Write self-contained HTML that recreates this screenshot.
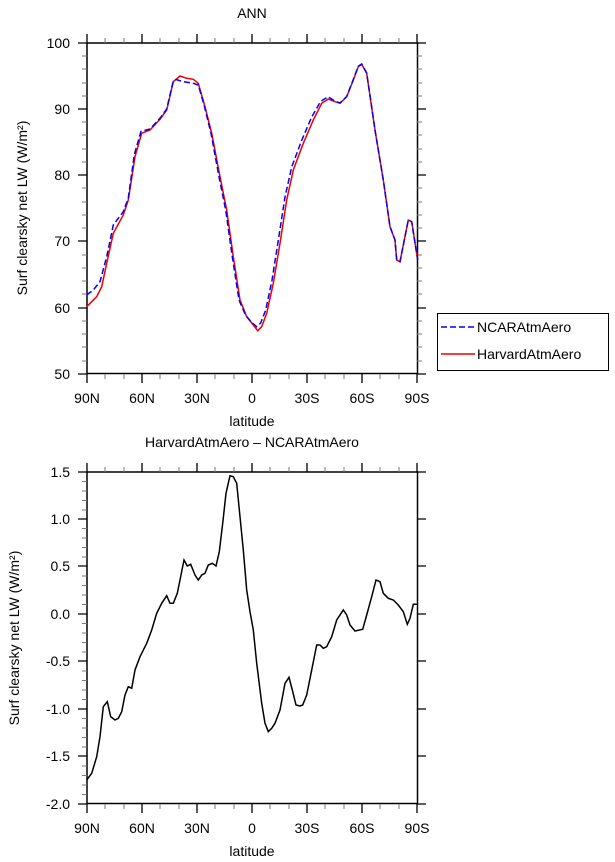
<!DOCTYPE html>
<html><head><style>body{margin:0;background:#fff}svg{display:block}text{font-family:"Liberation Sans",sans-serif;fill:#000}</style></head>
<body>
<svg width="615" height="862" viewBox="0 0 615 862" xmlns="http://www.w3.org/2000/svg">
<g font-size="14">
<text x="252" y="18" text-anchor="middle">ANN</text>
<rect x="87" y="43" width="330.5" height="330.5" fill="none" stroke="#000" stroke-width="1.5"/>
<g stroke="#000" stroke-width="1.3">
<path d="M87,43v-9M142,43v-9M197,43v-9M252,43v-9M307,43v-9M362,43v-9M417,43v-9M87,374v9M142,374v9M197,374v9M252,374v9M307,374v9M362,374v9M417,374v9"/>
<path d="M87,43h-9M87,109h-9M87,175h-9M87,241h-9M87,308h-9M87,374h-9M417,43h9M417,109h9M417,175h9M417,241h9M417,308h9M417,374h9"/>
</g>
<g stroke="#777" stroke-width="1">
<path d="M105,43v-5M124,43v-5M160,43v-5M179,43v-5M215,43v-5M234,43v-5M270,43v-5M289,43v-5M325,43v-5M344,43v-5M380,43v-5M399,43v-5M105,374v5M124,374v5M160,374v5M179,374v5M215,374v5M234,374v5M270,374v5M289,374v5M325,374v5M344,374v5M380,374v5M399,374v5"/>
<path d="M87,56h-5M87,69h-5M87,83h-5M87,96h-5M87,122h-5M87,135h-5M87,149h-5M87,162h-5M87,188h-5M87,202h-5M87,215h-5M87,228h-5M87,255h-5M87,268h-5M87,281h-5M87,294h-5M87,321h-5M87,334h-5M87,347h-5M87,361h-5M417,56h5M417,69h5M417,83h5M417,96h5M417,122h5M417,135h5M417,149h5M417,162h5M417,188h5M417,202h5M417,215h5M417,228h5M417,255h5M417,268h5M417,281h5M417,294h5M417,321h5M417,334h5M417,347h5M417,361h5"/>
</g>
<g text-anchor="end"><text x="70" y="48">100</text><text x="70" y="114">90</text><text x="70" y="180">80</text><text x="70" y="246">70</text><text x="70" y="313">60</text><text x="70" y="379">50</text></g>
<g text-anchor="middle"><text x="87" y="403">90N</text><text x="142" y="403">60N</text><text x="197" y="403">30N</text><text x="252" y="403">0</text><text x="307" y="403">30S</text><text x="362" y="403">60S</text><text x="417" y="403">90S</text><text x="252" y="426">latitude</text></g>
<text transform="translate(27,208) rotate(-90)" text-anchor="middle">Surf clearsky net LW (W/m²)</text>
<polyline fill="none" stroke="#e00" stroke-width="1.5" points="86.7,306.7 91.7,301.7 96.7,296.7 101.7,286.7 106.7,263.3 113.3,233.3 123.3,215 128.3,200 135,156.7 141.7,133.3 150,130 160,119.3 166.7,110 173.3,81.7 180,76 186.7,78.3 193.3,79.3 198.3,83.3 205,106.7 211.7,133.3 220,176.7 226.7,210 233.3,256.7 240,300 246.7,316.7 253.3,325 257.7,330.7 261.7,326.7 266.7,313.3 273.3,283.3 280,243.3 286.7,200 293.3,170 303.3,143.3 313.3,120 321.7,103.3 328.3,99 335,101.7 340,103.3 346.7,96.7 353.3,80 358.3,66.7 361.7,64.3 366.7,73.3 375,130 383.3,180 390,226.7 395,240 396.7,260 400,261.7 408.3,220 411.7,221.7 417.7,260"/>
<polyline fill="none" stroke="#00f" stroke-width="1.5" stroke-dasharray="6,3" points="86.7,295 93.3,290 100,281.7 106.7,256.7 113.3,225 123.3,211.7 128.3,198 134.3,154.7 141,131.3 150,129 160,118.3 166.7,109 173.3,81 176,79.5 183.3,81.7 193.3,83.3 198.3,85 204.5,106.7 211,133.3 219,176.7 225.7,210 232.3,256.7 239,300 245.7,315.5 252.3,323 256.7,326.7 260.7,323 265.7,310 272,280.3 278.3,240.3 285,197 291.7,167 301.7,140.3 311.7,117 320.7,101.3 328.3,96.7 335,101.2 340,103 346.7,96.5 353.3,79.5 358.3,66.2 361.7,64 366.7,73 375,130 383.3,180 390,226.7 395,240 396.7,260 400,261.7 408.3,220 411.7,221.7 417.7,260"/>
<rect x="437.5" y="313.5" width="171" height="57" fill="none" stroke="#000" stroke-width="1"/>
<line x1="441" y1="327" x2="475" y2="327" stroke="#00f" stroke-width="1.5" stroke-dasharray="6,3"/>
<line x1="441" y1="354" x2="475" y2="354" stroke="#e00" stroke-width="1.5"/>
<text x="477" y="332">NCARAtmAero</text><text x="477" y="359">HarvardAtmAero</text>

<text x="252" y="447" text-anchor="middle">HarvardAtmAero – NCARAtmAero</text>
<rect x="87" y="472" width="330.5" height="331.5" fill="none" stroke="#000" stroke-width="1.5"/>
<g stroke="#000" stroke-width="1.3">
<path d="M87,472v-9M142,472v-9M197,472v-9M252,472v-9M307,472v-9M362,472v-9M417,472v-9M87,804v9M142,804v9M197,804v9M252,804v9M307,804v9M362,804v9M417,804v9"/>
<path d="M87,472h-9M87,519h-9M87,566h-9M87,614h-9M87,661h-9M87,709h-9M87,756h-9M87,804h-9M417,472h9M417,519h9M417,566h9M417,614h9M417,661h9M417,709h9M417,756h9M417,804h9"/>
</g>
<g stroke="#777" stroke-width="1">
<path d="M105,472v-5M124,472v-5M160,472v-5M179,472v-5M215,472v-5M234,472v-5M270,472v-5M289,472v-5M325,472v-5M344,472v-5M380,472v-5M399,472v-5M105,804v5M124,804v5M160,804v5M179,804v5M215,804v5M234,804v5M270,804v5M289,804v5M325,804v5M344,804v5M380,804v5M399,804v5"/>
<path id="mt" d="M87,481.5h-5M87,491h-5M87,500.5h-5M87,510h-5M87,528.5h-5M87,538h-5M87,547.5h-5M87,557h-5M87,576h-5M87,585.5h-5M87,595h-5M87,604.5h-5M87,623.5h-5M87,633h-5M87,642.5h-5M87,652h-5M87,671h-5M87,680.5h-5M87,690h-5M87,699.5h-5M87,718.5h-5M87,728h-5M87,737.5h-5M87,747h-5M87,766h-5M87,775.5h-5M87,785h-5M87,794.5h-5"/>
<use href="#mt" transform="translate(835,0) scale(-1,1)"/>
</g>
<g text-anchor="end"><text x="70" y="477">1.5</text><text x="70" y="524">1.0</text><text x="70" y="571">0.5</text><text x="70" y="619">0.0</text><text x="70" y="666">-0.5</text><text x="70" y="714">-1.0</text><text x="70" y="761">-1.5</text><text x="70" y="809">-2.0</text></g>
<g text-anchor="middle"><text x="87" y="833">90N</text><text x="142" y="833">60N</text><text x="197" y="833">30N</text><text x="252" y="833">0</text><text x="307" y="833">30S</text><text x="362" y="833">60S</text><text x="417" y="833">90S</text><text x="252" y="856">latitude</text></g>
<text transform="translate(19,638) rotate(-90)" text-anchor="middle">Surf clearsky net LW (W/m²)</text>
<polyline fill="none" stroke="#000" stroke-width="1.5" points="86.7,780 91.7,773.3 96.7,756.7 100,736.7 103.3,706.7 107.3,701.7 110.7,716.7 115,720 118.3,718.3 121.7,711.7 125,695 128.3,686.7 131.7,688.3 135,670 140,656.7 146.7,643.3 151.7,630 156.7,613.3 161.7,603.3 166.7,595.7 170,603.3 173.3,603.3 177.3,593.3 180,580 184,560 187.3,566 190.7,564.3 195,575 198.3,580 201.7,575 205,573.3 208.3,565 212.3,563.3 216,566 219.3,551.7 222.7,523.3 226,493.3 230,475.7 233.3,476.7 236.7,483.3 240,516.7 243.3,550 246.7,590 250,611.7 253.3,630 256.7,663.3 261.7,703.3 265,723.3 268.3,731.7 271.7,728.3 275,723.3 280,710 285,683.3 289,677.3 292.3,690 296,705 300,706 302.7,705 306.7,695 311.7,670 316.7,645 320,645 323.3,648.3 326.7,646.7 331.7,636.7 336.7,620 343.3,610 346.7,615 350,625 355,631 362.7,629.3 366.7,615 371.7,596.7 376,580 380,581.7 383.3,593.3 388.3,598.3 393.3,600 398.3,605 403.3,611.7 407.3,624.3 410,618.3 413.3,604.3 417.7,604.3"/>
</g>
</svg>
</body></html>
